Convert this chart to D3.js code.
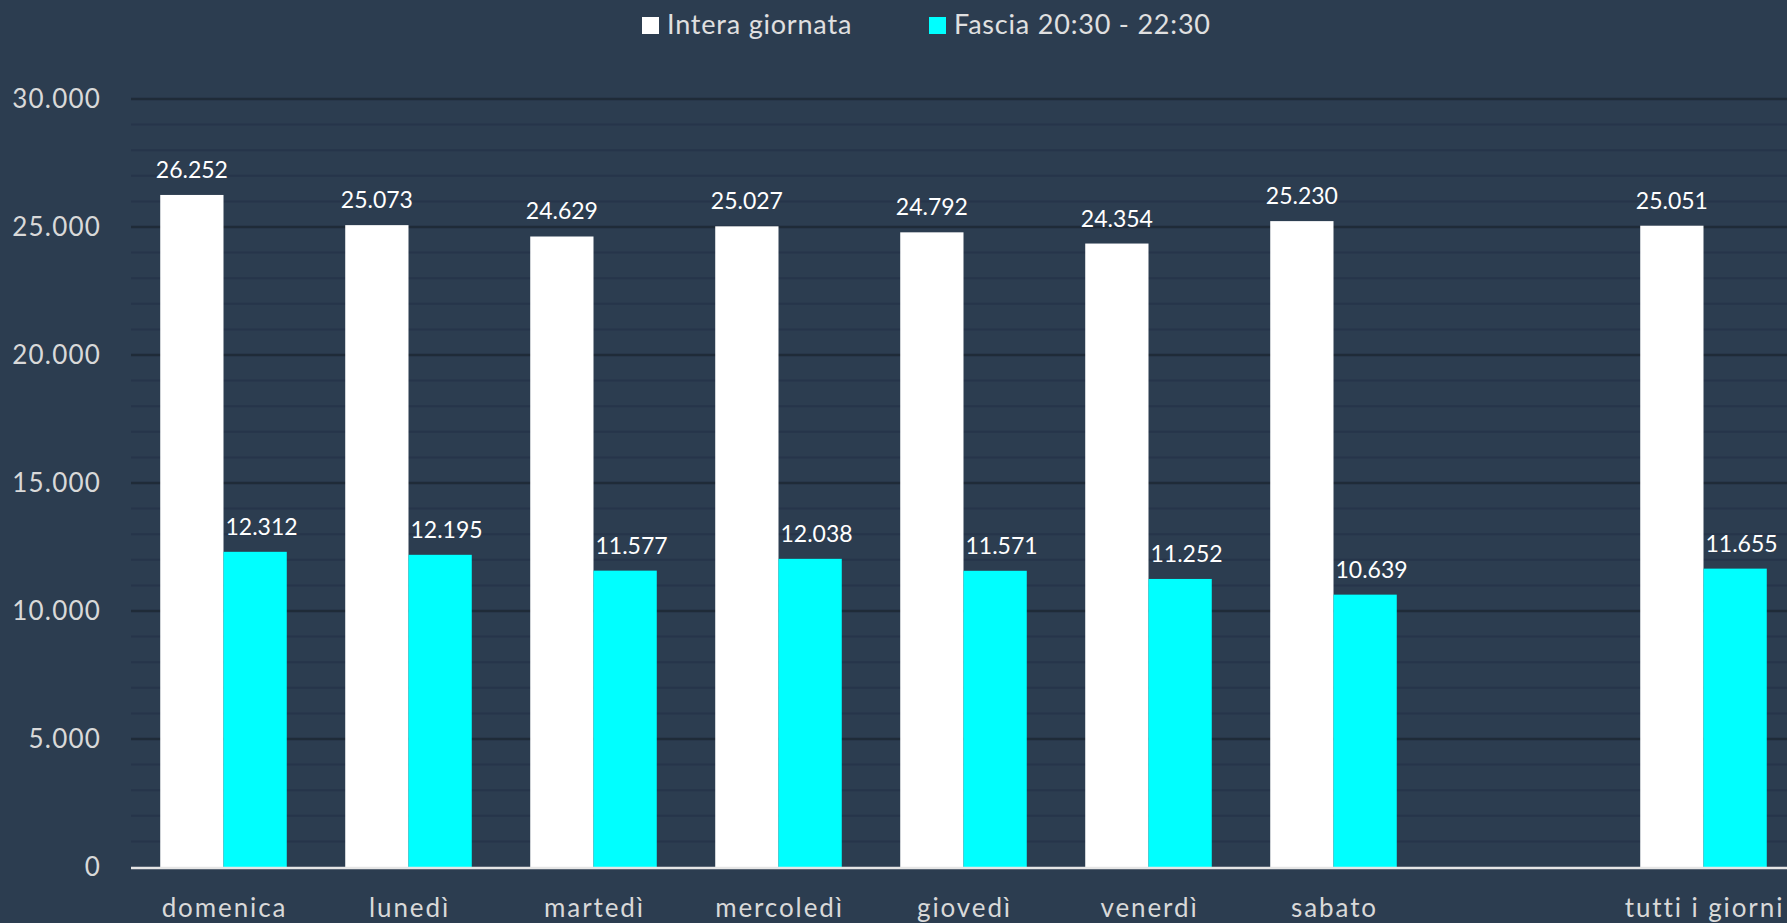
<!DOCTYPE html>
<html>
<head>
<meta charset="utf-8">
<script src="https://cdn.jsdelivr.net/npm/d3@7"></script>
<style>
  html, body { margin: 0; padding: 0; background: #2c3d50; overflow: hidden; }
  text { font-family: Lato, "Open Sans", sans-serif; }
</style>
</head>
<body>
<div id="chart"></div>
<script>
// categories (empty slot between sabato and the total)
const days = ['domenica', 'lunedì', 'martedì', 'mercoledì', 'giovedì', 'venerdì', 'sabato', '', 'tutti i giorni'];
const interaGiornata = [26252, 25073, 24629, 25027, 24792, 24354, 25230, null, 25051];
const fascia = [12312, 12195, 11577, 12038, 11571, 11252, 10639, null, 11655];
const seriesNames = ['Intera giornata', 'Fascia 20:30 - 22:30'];
const yTicks = [0, 5000, 10000, 15000, 20000, 25000, 30000];

const W = 1787, H = 923;
const left = 131, step = 185;
const colors = ['#ffffff', '#00ffff'];

const svg = d3.select('#chart').append('svg')
  .attr('width', W)
  .attr('height', H);

const x0 = d3.scaleBand()
  .domain(d3.range(days.length))
  .range([left, left + step * days.length])
  .paddingInner(0.316)
  .paddingOuter(0.158);

const x1 = d3.scaleBand()
  .domain([0, 1])
  .range([0, x0.bandwidth()]);

const y = d3.scaleLinear()
  .domain([0, 30000])
  .range([867, 99]);

const fmt = (v) => d3.format(',')(v).replace(/,/g, '.');

// minor and major grid lines
svg.append('g')
  .selectAll('line')
  .data(d3.range(1000, 30001, 1000))
  .enter()
  .append('line')
  .attr('x1', left)
  .attr('x2', W)
  .attr('y1', (d) => y(d))
  .attr('y2', (d) => y(d))
  .attr('stroke', (d) => d % 5000 === 0 ? '#1f2b38' : '#26354a')
  .attr('stroke-width', (d) => d % 5000 === 0 ? 2.5 : 2);

// y axis labels
svg.append('g')
  .selectAll('text')
  .data(yTicks)
  .enter()
  .append('text')
  .attr('x', 101)
  .attr('y', (d) => y(d))
  .attr('dy', '0.35em')
  .attr('text-anchor', 'end')
  .style('font-size', '26px')
  .style('letter-spacing', '1.2px')
  .style('fill', '#d9d9d9')
  .text((d) => fmt(d));

// bars
const groups = svg.append('g')
  .selectAll('g')
  .data(days.map((d, i) => i).filter((i) => interaGiornata[i] != null))
  .enter()
  .append('g')
  .attr('transform', (i) => `translate(${x0(i)},0)`);

[interaGiornata, fascia].forEach((series, s) => {
  groups.append('rect')
    .attr('x', x1(s))
    .attr('width', x1.bandwidth())
    .attr('y', (i) => y(series[i]))
    .attr('height', (i) => y(0) - y(series[i]))
    .attr('fill', colors[s]);

  groups.append('text')
    .attr('x', s === 0 ? x1(s) + x1.bandwidth() / 2 : x1(s) + 2)
    .attr('y', (i) => y(series[i]) - 17)
    .attr('text-anchor', s === 0 ? 'middle' : 'start')
    .style('font-size', '23px')
    .style('fill', '#ffffff')
    .text((i) => fmt(series[i]));
});

// zero axis line
svg.append('line')
  .attr('x1', left)
  .attr('x2', W)
  .attr('y1', y(0) + 1)
  .attr('y2', y(0) + 1)
  .attr('stroke', '#e6e6e6')
  .attr('stroke-width', 2.5);

// x axis labels
svg.append('g')
  .selectAll('text')
  .data(days)
  .enter()
  .append('text')
  .attr('x', (d, i) => x0(i) + x0.bandwidth() / 2 + 1)
  .attr('y', 908)
  .attr('dy', '0.35em')
  .attr('text-anchor', 'middle')
  .style('font-size', '26px')
  .style('letter-spacing', '1.9px')
  .style('fill', '#d9d9d9')
  .text((d) => d);

// legend
const legendX = [642, 929];
const legend = svg.append('g')
  .selectAll('g')
  .data(seriesNames)
  .enter()
  .append('g')
  .attr('transform', (d, i) => `translate(${legendX[i]},0)`);

legend.append('rect')
  .attr('x', 0)
  .attr('y', 17)
  .attr('width', 17)
  .attr('height', 17)
  .attr('fill', (d, i) => colors[i]);

legend.append('text')
  .attr('x', 25)
  .attr('y', 25)
  .attr('dy', '0.35em')
  .style('font-size', '27px')
  .style('letter-spacing', '0.8px')
  .style('fill', '#e0e0e0')
  .text((d) => d);
</script>
</body>
</html>
